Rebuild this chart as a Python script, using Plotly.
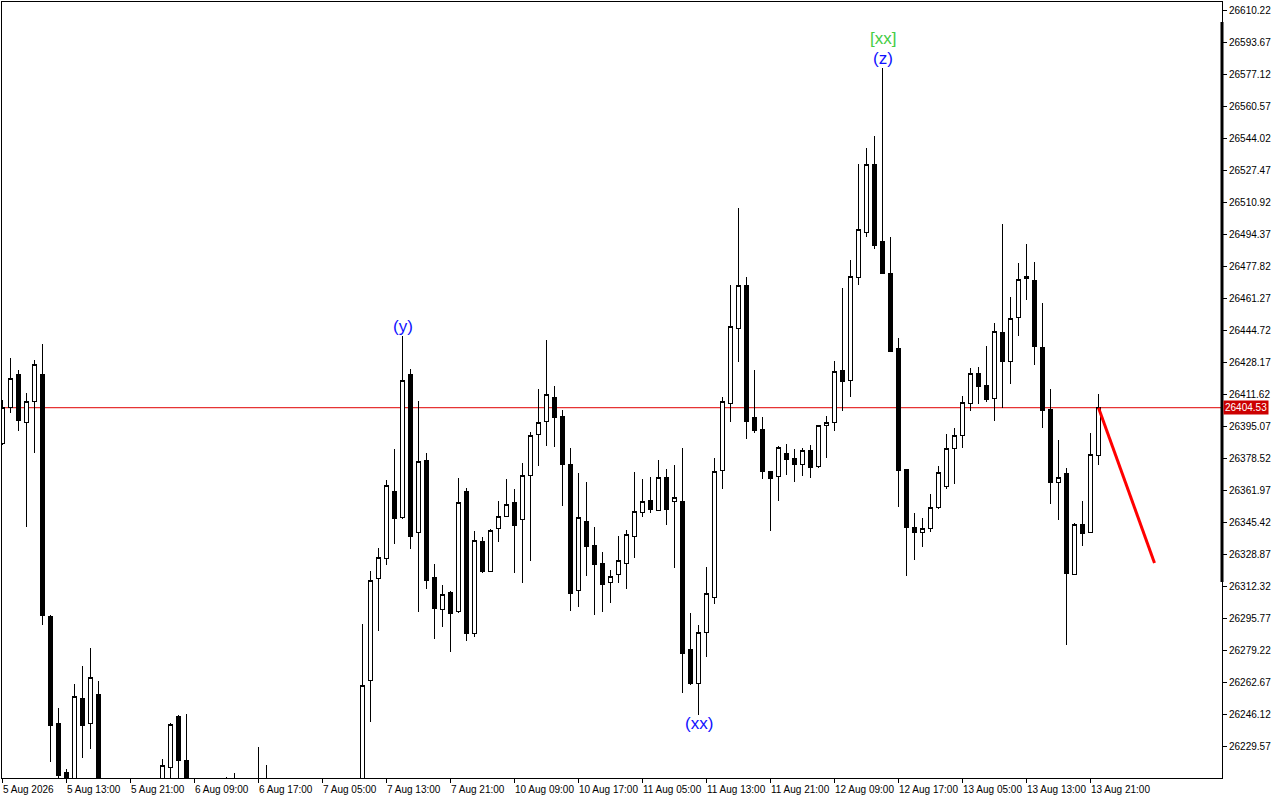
import plotly.graph_objects as go

# ---------------- data ----------------
bar_index = list(range(138))

opens = [
    26386.28, 26404.74, 26421.96, 26396.98, 26408.00, 26421.96, 26296.80, 26241.31, 26215.97, 26205.00,
    26254.24, 26241.31, 26256.46, 26198.00, 26180.00, 26188.00, 26178.00, 26185.00, 26192.00, 26195.00,
    26200.00, 26218.55, 26245.08, 26222.33, 26200.00, 26190.00, 26182.00, 26188.00, 26195.00, 26203.00,
    26196.00, 26185.00, 26190.00, 26205.00, 26198.00, 26192.00, 26186.00, 26180.00, 26188.00, 26182.00,
    26176.00, 26185.00, 26190.00, 26195.00, 26192.00, 26200.00, 26263.34, 26316.30, 26326.64, 26361.45,
    26347.64, 26421.96, 26340.09, 26377.48, 26316.61, 26300.27, 26308.85, 26299.03, 26361.45, 26287.85,
    26335.59, 26319.92, 26342.16, 26348.37, 26355.61, 26346.81, 26369.57, 26390.78, 26397.65, 26410.07,
    26400.24, 26375.41, 26310.25, 26345.94, 26333.37, 26324.06, 26314.23, 26318.37, 26324.06, 26338.02,
    26350.59, 26356.64, 26351.62, 26368.54, 26355.92, 26356.28, 26279.74, 26262.00, 26288.37, 26306.47,
    26372.16, 26406.81, 26445.60, 26467.99, 26399.72, 26393.52, 26371.79, 26368.85, 26381.10, 26378.52,
    26375.26, 26382.66, 26374.02, 26395.43, 26397.09, 26424.03, 26418.50, 26472.08, 26495.35, 26530.42,
    26490.54, 26474.10, 26434.94, 26372.67, 26342.78, 26339.99, 26342.21, 26352.92, 26363.83, 26383.22,
    26390.05, 26406.81, 26422.32, 26416.27, 26409.39, 26443.68, 26428.53, 26451.08, 26471.25, 26470.42,
    26435.93, 26403.86, 26365.95, 26370.76, 26318.16, 26344.38, 26340.09, 26379.91,
]
highs = [
    26408.52, 26430.08, 26424.03, 26412.29, 26429.20, 26437.48, 26297.32, 26249.38, 26217.67, 26261.63,
    26270.94, 26280.10, 26263.19, 26205.00, 26192.00, 26200.00, 26190.00, 26198.00, 26206.00, 26208.00,
    26222.84, 26241.31, 26245.50, 26246.12, 26210.00, 26200.00, 26195.00, 26200.00, 26213.50, 26215.76,
    26205.00, 26198.00, 26229.05, 26219.74, 26208.00, 26202.00, 26198.00, 26195.00, 26200.00, 26194.00,
    26190.00, 26198.00, 26204.00, 26208.00, 26206.00, 26292.66, 26320.23, 26331.82, 26367.14, 26383.17,
    26441.77, 26424.55, 26408.15, 26381.26, 26323.70, 26312.84, 26309.73, 26368.17, 26363.00, 26340.76,
    26337.66, 26341.80, 26356.28, 26367.66, 26362.49, 26375.78, 26391.81, 26414.20, 26439.55, 26415.76,
    26403.34, 26383.69, 26370.61, 26366.11, 26342.83, 26329.90, 26320.59, 26338.18, 26341.28, 26371.12,
    26367.66, 26368.54, 26377.48, 26372.83, 26374.90, 26383.69, 26298.20, 26292.15, 26322.30, 26378.67,
    26410.22, 26467.99, 26507.66, 26472.28, 26424.03, 26399.72, 26372.00, 26384.70, 26385.91, 26383.17,
    26383.50, 26385.24, 26395.60, 26400.24, 26428.48, 26466.49, 26480.71, 26530.62, 26538.90, 26545.00,
    26580.48, 26492.76, 26440.63, 26373.00, 26350.12, 26347.75, 26359.74, 26374.17, 26391.14, 26394.29,
    26410.58, 26424.91, 26425.74, 26436.44, 26448.34, 26499.54, 26461.79, 26479.52, 26489.20, 26479.89,
    26458.68, 26414.20, 26387.83, 26373.19, 26344.74, 26356.28, 26391.29, 26411.62,
]
lows = [
    26385.24, 26401.95, 26392.64, 26342.99, 26381.26, 26292.15, 26221.45, 26208.00, 26198.00, 26200.00,
    26223.52, 26228.02, 26190.00, 26170.00, 26165.00, 26175.00, 26160.00, 26172.00, 26180.00, 26185.00,
    26195.00, 26208.00, 26205.00, 26195.00, 26185.00, 26175.00, 26170.00, 26178.00, 26185.00, 26190.00,
    26180.00, 26172.00, 26182.00, 26192.00, 26185.00, 26178.00, 26170.00, 26168.00, 26175.00, 26165.00,
    26160.00, 26172.00, 26178.00, 26182.00, 26180.00, 26190.00, 26242.14, 26289.20, 26323.18, 26334.04,
    26346.97, 26331.45, 26299.03, 26310.61, 26284.91, 26290.96, 26278.34, 26298.20, 26284.03, 26286.10,
    26319.20, 26319.50, 26335.23, 26348.00, 26319.20, 26313.71, 26325.40, 26374.54, 26384.88, 26384.05,
    26353.85, 26299.54, 26301.30, 26317.65, 26297.16, 26299.03, 26303.68, 26313.71, 26310.61, 26326.95,
    26348.16, 26350.23, 26351.10, 26344.02, 26321.78, 26256.82, 26261.12, 26245.60, 26275.44, 26302.85,
    26362.33, 26397.29, 26428.32, 26388.19, 26391.29, 26367.50, 26340.92, 26356.43, 26369.73, 26366.26,
    26369.21, 26368.02, 26373.50, 26378.36, 26392.64, 26402.62, 26410.17, 26467.78, 26492.76, 26486.82,
    26473.50, 26433.40, 26353.28, 26317.28, 26325.56, 26332.44, 26340.35, 26351.99, 26362.50, 26364.92,
    26383.85, 26402.98, 26406.60, 26407.64, 26397.81, 26404.22, 26416.95, 26441.77, 26460.23, 26426.62,
    26394.03, 26354.73, 26346.45, 26281.80, 26318.00, 26333.16, 26340.00, 26374.90,
]
closes = [
    26404.89, 26419.74, 26397.81, 26408.00, 26426.98, 26296.96, 26240.07, 26214.57, 26205.00, 26255.43,
    26240.43, 26265.10, 26200.00, 26180.00, 26188.00, 26178.00, 26185.00, 26192.00, 26195.00, 26200.00,
    26219.59, 26240.95, 26221.97, 26200.00, 26190.00, 26182.00, 26188.00, 26195.00, 26203.00, 26196.00,
    26185.00, 26190.00, 26205.00, 26198.00, 26192.00, 26186.00, 26180.00, 26188.00, 26182.00, 26176.00,
    26185.00, 26190.00, 26195.00, 26192.00, 26200.00, 26260.96, 26315.06, 26327.16, 26364.55, 26347.33,
    26418.86, 26337.82, 26376.97, 26315.06, 26300.58, 26308.18, 26298.20, 26355.61, 26287.85, 26335.95,
    26319.71, 26341.13, 26348.37, 26354.57, 26343.50, 26369.57, 26390.26, 26396.98, 26411.46, 26399.36,
    26375.05, 26308.54, 26347.64, 26332.64, 26323.33, 26312.99, 26317.33, 26325.61, 26339.06, 26350.95,
    26355.92, 26351.99, 26368.54, 26351.78, 26357.99, 26277.51, 26261.79, 26288.37, 26308.54, 26371.64,
    26407.84, 26446.79, 26467.99, 26397.29, 26392.64, 26371.43, 26367.81, 26384.21, 26377.64, 26375.05,
    26382.66, 26373.50, 26395.43, 26397.14, 26423.51, 26417.93, 26472.44, 26496.80, 26530.42, 26488.32,
    26473.89, 26433.65, 26372.10, 26342.78, 26339.99, 26342.21, 26352.92, 26371.23, 26383.22, 26390.21,
    26407.33, 26422.32, 26415.39, 26408.67, 26444.20, 26428.32, 26450.77, 26470.94, 26472.49, 26436.08,
    26403.34, 26365.74, 26368.69, 26318.68, 26344.38, 26339.57, 26380.43, 26404.53,
]

x_tick_bars = [0, 8, 16, 24, 32, 40, 48, 56, 64, 72, 80, 88, 96, 104, 112, 120, 128, 136]
x_tick_labels = [
    "5 Aug 2026", "5 Aug 13:00", "5 Aug 21:00", "6 Aug 09:00", "6 Aug 17:00", "7 Aug 05:00",
    "7 Aug 13:00", "7 Aug 21:00", "10 Aug 09:00", "10 Aug 17:00", "11 Aug 05:00", "11 Aug 13:00",
    "11 Aug 21:00", "12 Aug 09:00", "12 Aug 17:00", "13 Aug 05:00", "13 Aug 13:00", "13 Aug 21:00",
]
y_tick_labels = [
    "26610.22", "26593.67", "26577.12", "26560.57", "26544.02", "26527.47", "26510.92", "26494.37",
    "26477.82", "26461.27", "26444.72", "26428.17", "26411.62", "26395.07", "26378.52", "26361.97",
    "26345.42", "26328.87", "26312.32", "26295.77", "26279.22", "26262.67", "26246.12", "26229.57",
]
y_range = [26213.02, 26614.36]

forecast_bars = [137, 144]
forecast_prices = [26404.53, 26324.21]

wave_texts = ["(y)", "(xx)", "(z)", "[xx]"]
wave_bars = [50, 87, 110, 110]
wave_at_high = [True, False, True, True]
wave_colors = ["#1010ff", "#1010ff", "#1010ff", "#44cc44"]
wave_shift = [9, -8, 9.5, 29.5]

# ---------------- figure ----------------
fig = go.Figure()
fig.add_trace(go.Candlestick(
    x=bar_index, open=opens, high=highs, low=lows, close=closes,
    increasing=dict(line=dict(color="black", width=1), fillcolor="white"),
    decreasing=dict(line=dict(color="black", width=1), fillcolor="black"),
    whiskerwidth=0, showlegend=False, hoverinfo="skip",
))
fig.add_trace(go.Scatter(
    x=forecast_bars, y=forecast_prices, mode="lines",
    line=dict(color="#ff0000", width=3), showlegend=False, hoverinfo="skip",
))

last_price = closes[-1]
fig.add_shape(type="line", xref="paper", x0=0, x1=1, yref="y", y0=last_price, y1=last_price,
              line=dict(color="#e00000", width=1), layer="below")
# thick segment on the right frame
fig.add_shape(type="line", xref="paper", x0=1, x1=1, yref="paper", y0=0.2526, y1=0.9742,
              line=dict(color="black", width=3))

annotations = []
for bx, lab in zip(x_tick_bars, x_tick_labels):
    annotations.append(dict(
        x=bx, xref="x", y=0, yref="paper", text=lab, showarrow=False,
        xanchor="left", yanchor="top", xshift=-2, yshift=-4,
        font=dict(family="Liberation Sans, Arial, sans-serif", size=10, color="black"),
    ))
for t, b, hi, c, s in zip(wave_texts, wave_bars, wave_at_high, wave_colors, wave_shift):
    annotations.append(dict(
        x=b, xref="x", y=highs[b] if hi else lows[b], yref="y", text=t, showarrow=False,
        xanchor="center", yanchor="middle", yshift=s,
        font=dict(family="Liberation Sans, Arial, sans-serif", size=17, color=c),
    ))
annotations.append(dict(
    x=1, xref="paper", y=last_price, yref="y", text=f"{last_price:.2f}", showarrow=False,
    xanchor="left", yanchor="middle", xshift=1, bgcolor="#cc0000", borderpad=1,
    font=dict(family="Liberation Sans, Arial, sans-serif", size=10, color="white"),
))

fig.update_layout(
    width=1280, height=800,
    margin=dict(l=2, r=58, t=2, b=22),
    paper_bgcolor="white", plot_bgcolor="white",
    boxgap=0.4,
    annotations=annotations,
    showlegend=False,
    xaxis=dict(
        type="linear", range=[-0.0625, 152.4375], rangeslider=dict(visible=False),
        tickmode="array", tickvals=x_tick_bars, showticklabels=False,
        ticks="outside", ticklen=4, tickcolor="black",
        showgrid=False, zeroline=False,
        showline=True, linecolor="black", linewidth=1, mirror=True,
    ),
    yaxis=dict(
        side="right", range=y_range,
        tickmode="array", tickvals=[float(v) for v in y_tick_labels], ticktext=y_tick_labels,
        ticks="outside", ticklen=4, tickcolor="black",
        tickfont=dict(family="Liberation Sans, Arial, sans-serif", size=10, color="black"),
        showgrid=False, zeroline=False,
        showline=True, linecolor="black", linewidth=1, mirror=True,
    ),
)

fig.write_html(
    "out.html",
    config={"displayModeBar": False, "staticPlot": True},
    post_script=(
        "document.body.style.margin='0';document.body.style.overflow='hidden';"
        "document.querySelectorAll('.boxlayer path').forEach(function(p){p.style.shapeRendering='crispEdges';});"
    ),
)
